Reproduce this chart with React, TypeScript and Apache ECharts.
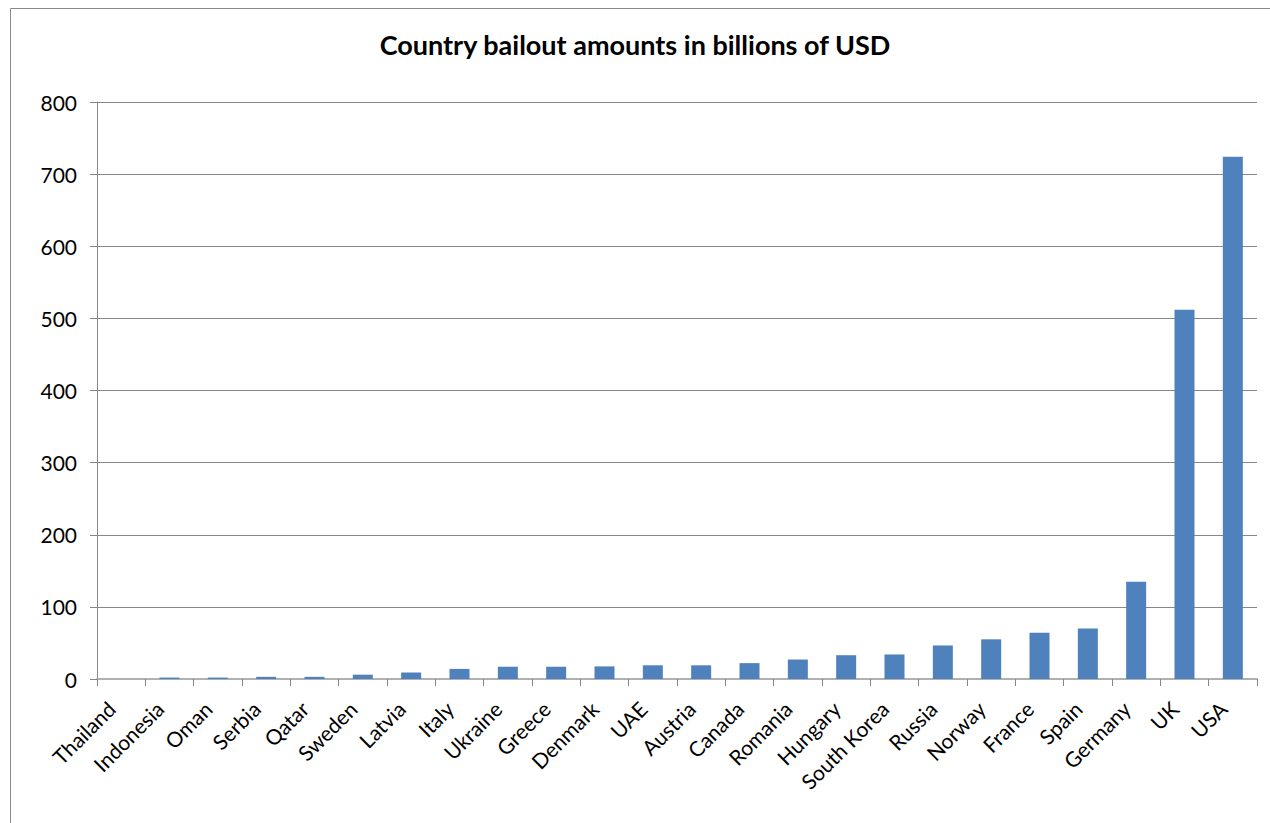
import React, { useEffect, useRef } from "react";
import * as echarts from "echarts";

const categories = [
  "Thailand", "Indonesia", "Oman", "Serbia", "Qatar", "Sweden", "Latvia", "Italy",
  "Ukraine", "Greece", "Denmark", "UAE", "Austria", "Canada", "Romania", "Hungary",
  "South Korea", "Russia", "Norway", "France", "Spain", "Germany", "UK", "USA",
];
const bailouts = [
  0, 2, 2, 3, 3, 6, 9, 14,
  17, 17, 17.5, 19, 19, 22, 27, 33,
  34, 46.5, 55, 64, 70, 135, 512, 724,
];
const yTicks = { min: 0, max: 800, interval: 100 };
const titleText = "Country bailout amounts in billions of USD";

export default function App() {
  const ref = useRef<HTMLDivElement>(null);
  useEffect(() => {
    if (!ref.current) return;
    const chart = echarts.init(ref.current, undefined, { renderer: "svg" });
    const font = "Lato, 'Open Sans', sans-serif";
    chart.setOption({
      animation: false,
      backgroundColor: "#ffffff",
      title: {
        text: titleText,
        left: "center",
        top: 26,
        textStyle: { fontFamily: font, fontSize: 27, fontWeight: "bold", color: "#000" },
      },
      graphic: [
        {
          type: "rect",
          shape: { x: 10.5, y: 8.5, width: 1400, height: 1000 },
          style: { fill: "none", stroke: "#8a8a8a", lineWidth: 1 },
          silent: true,
          z: -1,
        },
      ],
      grid: { left: 97, right: 13, top: 102, bottom: 144, containLabel: false },
      xAxis: {
        type: "category",
        data: categories,
        boundaryGap: true,
        axisLine: { show: true, lineStyle: { color: "#b0b0b0", width: 2 } },
        axisTick: { show: true, length: 7, alignWithLabel: false, lineStyle: { color: "#878787" } },
        axisLabel: {
          interval: 0,
          rotate: 45,
          margin: 16,
          padding: [0, 14, 0, 0],
          fontFamily: font,
          fontSize: 21,
          color: "#000",
        },
        splitLine: { show: false },
      },
      yAxis: {
        type: "value",
        min: yTicks.min,
        max: yTicks.max,
        interval: yTicks.interval,
        axisLine: { show: true, lineStyle: { color: "#878787", width: 1 } },
        axisTick: { show: true, length: 7, lineStyle: { color: "#878787" } },
        axisLabel: { margin: 20, fontFamily: font, fontSize: 21, color: "#000" },
        splitLine: { show: true, lineStyle: { color: "#878787", width: 1 } },
      },
      series: [
        {
          type: "bar",
          data: bailouts,
          barWidth: 20,
          itemStyle: { color: "#4f81bd" },
        },
      ],
    });
    return () => chart.dispose();
  }, []);
  return (
    <div
      ref={ref}
      style={{ position: "fixed", left: 0, top: 0, width: 1270, height: 823 }}
    />
  );
}
